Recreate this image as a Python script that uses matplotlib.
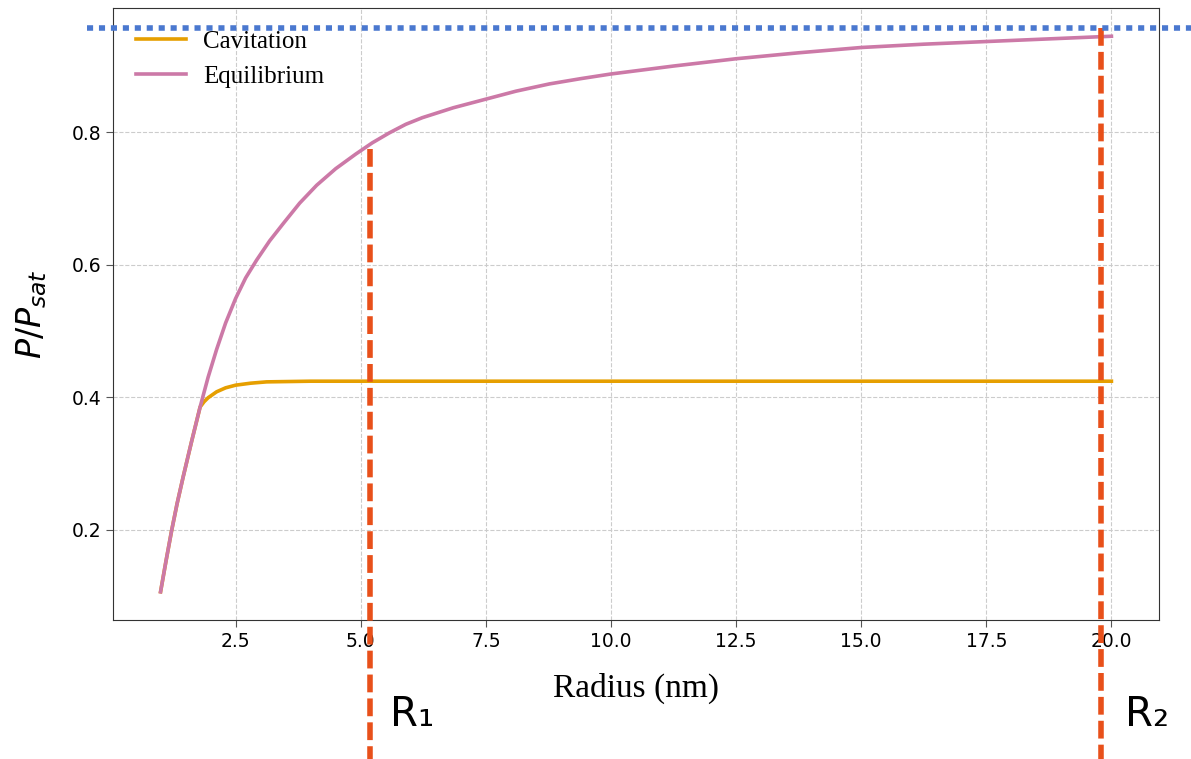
import matplotlib
matplotlib.use("Agg")
import matplotlib.pyplot as plt

# values
radius_eq = [1.0, 1.11, 1.22, 1.33, 1.45, 1.62, 1.79, 1.95, 2.12, 2.3, 2.5,
             2.7, 2.92, 3.18, 3.45, 3.78, 4.12, 4.5, 4.9, 5.23, 5.57, 5.9,
             6.23, 6.85, 7.5, 8.1, 8.77, 9.4, 10.0, 11.25, 12.5, 13.75,
             15.0, 16.25, 17.5, 18.75, 20.0]
p_eq = [0.106, 0.153, 0.198, 0.239, 0.279, 0.333, 0.385, 0.430, 0.472, 0.512,
        0.549, 0.580, 0.607, 0.636, 0.662, 0.693, 0.720, 0.745, 0.767, 0.784,
        0.799, 0.812, 0.822, 0.837, 0.850, 0.862, 0.873, 0.881, 0.888, 0.900,
        0.911, 0.920, 0.928, 0.933, 0.937, 0.941, 0.945]

radius_cav = [1.0, 1.11, 1.22, 1.33, 1.45, 1.62, 1.79, 1.87, 1.95, 2.12, 2.3,
              2.5, 2.8, 3.12, 4.0, 5.0, 7.5, 10.0, 12.5, 15.0, 17.5, 20.0]
p_cav = [0.106, 0.153, 0.198, 0.239, 0.279, 0.333, 0.385, 0.393, 0.399, 0.408,
         0.414, 0.418, 0.421, 0.423, 0.424, 0.424, 0.424, 0.424, 0.424, 0.424,
         0.424, 0.424]

p_limit = 0.958          # blue dotted level
r1, r1_top = 5.19, 0.775
r2, r2_top = 19.79, 0.957
line_bottom = -0.15
marker_labels = ["R₁", "R₂"]

fig = plt.figure(figsize=(11.91, 7.59), dpi=100)
ax = fig.add_axes([0.0949, 0.1831, 0.8782, 0.8064])

ax.plot(radius_cav, p_cav, color="#E69F00", lw=2.6, label="Cavitation")
ax.plot(radius_eq, p_eq, color="#CC79A7", lw=2.6, label="Equilibrium")

ax.grid(True, color="#cccccc", ls="--", lw=0.8)
ax.set_axisbelow(True)

# reference lines, allowed to run outside the axes
ax.plot([-0.47, 22.5], [p_limit, p_limit], color="#4A78CF", lw=4,
        ls=(0, (1.1, 1.05)), clip_on=False, zorder=5)
dash = (0, (3.2, 1.1))
ax.plot([r1, r1], [r1_top, line_bottom], color="#E8501A", lw=4, ls=dash,
        clip_on=False, zorder=4)
ax.plot([r2, r2], [r2_top, line_bottom], color="#E8501A", lw=4, ls=dash,
        clip_on=False, zorder=4)
ax.text(5.59, -0.097, marker_labels[0], fontsize=29, va="baseline",
        family="DejaVu Sans")
ax.text(20.28, -0.097, marker_labels[1], fontsize=29, va="baseline",
        family="DejaVu Sans")

ax.set_xlim(0.05, 20.95)
ax.set_ylim(0.0633, 0.9877)
ax.set_xticks([2.5, 5.0, 7.5, 10.0, 12.5, 15.0, 17.5, 20.0])
ax.set_yticks([0.2, 0.4, 0.6, 0.8])
ax.tick_params(labelsize=13.5, length=5, color="#555555")
for sp in ax.spines.values():
    sp.set_color("#333333")

ax.set_xlabel("Radius (nm)", fontsize=24, family="Liberation Serif", labelpad=16)
ax.set_ylabel("$P/P_{sat}$", fontsize=24, labelpad=16)

ax.legend(loc="upper left", frameon=False, handletextpad=0.7,
          prop={"family": "Liberation Serif", "size": 18})

fig.savefig("out.png", dpi=100)
